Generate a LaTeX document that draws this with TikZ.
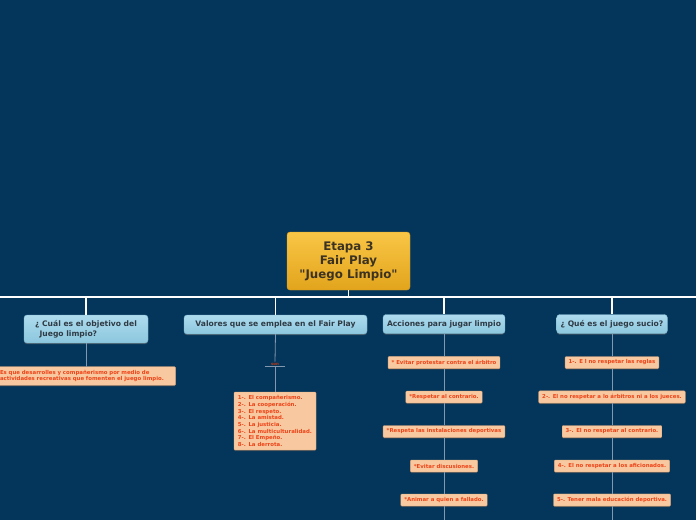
\documentclass[tikz,border=0pt]{standalone}
\usepackage{fontspec}
\setmainfont{DejaVu Sans}
\usetikzlibrary{shadows}
\definecolor{bgblue}{HTML}{04365B}
\definecolor{roottop}{HTML}{F9C646}
\definecolor{rootbottom}{HTML}{E2A41C}
\definecolor{rootline}{HTML}{D99A18}
\definecolor{rootfont}{HTML}{3B3223}
\definecolor{topictop}{HTML}{AEDBEE}
\definecolor{topicbottom}{HTML}{8CC7DE}
\definecolor{topicline}{HTML}{7AB5CE}
\definecolor{topicfont}{HTML}{2E3A44}
\definecolor{leaffont}{HTML}{EE4318}
\definecolor{leaffill}{HTML}{F8C9A0}
\definecolor{leafline}{HTML}{E0A67A}
\definecolor{branchgrey}{HTML}{8298AE}

\begin{document}
\begin{tikzpicture}[x=1pt,y=-1pt,
    root/.style={rounded corners=3pt,top color=roottop,bottom color=rootbottom,
        draw=rootline,font=\fontsize{11.8}{14}\selectfont\bfseries,text=rootfont,
        align=center,minimum width=123pt,minimum height=58pt,inner sep=2pt},
    topic/.style={rounded corners=3pt,top color=topictop,bottom color=topicbottom,
        draw=topicline,font=\fontsize{7.6}{10}\selectfont\bfseries,text=topicfont,
        inner xsep=4pt,minimum height=19pt,
        drop shadow={shadow xshift=0pt,shadow yshift=-1.2pt,fill=black!60,opacity=.6}},
    leaf/.style={rounded corners=1pt,fill=leaffill,draw=leafline,
        font=\fontsize{5.4}{6.7}\selectfont\bfseries,text=leaffont,
        inner xsep=3.5pt,minimum height=12pt,
        drop shadow={shadow xshift=0pt,shadow yshift=-1pt,fill=black!70,opacity=.6}},
    trunk/.style={draw=white,line width=1.6pt},
    branch/.style={draw=branchgrey,line width=.8pt}]

    \useasboundingbox[fill=bgblue] (0,0) rectangle (696,520);

    %main topic
    \node[root] (root) at (348.5,261) {Etapa 3\\Fair Play\\\textquotedbl Juego Limpio\textquotedbl};
    \coordinate (hl) at (0,297);
    \coordinate (hr) at (696,297);
    \draw[trunk] (hl) -- (hr);
    \draw[trunk] (root.south) -- (root.south |- hl);

    %objetivo
    \node[topic,align=left,minimum width=124pt,minimum height=28pt] (objetivo) at (86,329)
        {¿ Cuál es el objetivo del\\\hspace{0.6em}Juego limpio?};
    \node[leaf,align=left,text width=172pt,minimum height=18pt,
        font=\fontsize{5.4}{6.5}\selectfont\bfseries] (objetivo1) at (86,376)
        {Es que desarrolles y compañerismo por medio de\\actividades recreativas que fomenten el juego limpio.};
    \draw[trunk] (objetivo.north |- hl) -- (objetivo.north);
    \draw[branch] (objetivo.south) -- (objetivo1.north);

    %valores
    \node[topic,minimum width=183pt] (valores) at (275.5,324.5) {Valores que se emplea en el Fair Play};
    \node[font=\fontsize{4}{5}\selectfont\bfseries,text=leaffont!80!black,inner sep=1pt,
        minimum width=20pt] (son) at (275,364) {son};
    \draw[branch] (son.south west) -- (son.south east);
    \node[leaf,align=left,minimum width=82pt,minimum height=58pt,inner xsep=3pt] (lista) at (275,421)
        {1-. El compañerismo.\\2-. La cooperación.\\3-. El respeto.\\4-. La amistad.\\
         5-. La justicia.\\6-. La multiculturalidad.\\7-. El Empeño.\\8-. La derrota.};
    \draw[trunk] (valores.north |- hl) -- (valores.north);
    \draw[branch] (valores.south) -- (son.north);
    \draw[branch] (son.south) -- (lista.north);

    %acciones
    \node[topic,minimum width=119pt] (acciones) at (444,324) {Acciones para jugar limpio};
    \node[leaf] (acc1) at (444,362.5) {* Evitar protestar contra el árbitro};
    \node[leaf] (acc2) at (444,397) {*Respetar al contrario.};
    \node[leaf] (acc3) at (444,431.5) {*Respeta las instalaciones deportivas};
    \node[leaf] (acc4) at (444,466) {*Evitar discusiones.};
    \node[leaf] (acc5) at (444,500) {*Animar a quien a fallado.};
    \coordinate (accend) at (444,520);
    \draw[trunk] (acciones.north |- hl) -- (acciones.north);
    \draw[branch] (acciones.south) -- (acc1.north);
    \draw[branch] (acc1.south) -- (acc2.north);
    \draw[branch] (acc2.south) -- (acc3.north);
    \draw[branch] (acc3.south) -- (acc4.north);
    \draw[branch] (acc4.south) -- (acc5.north);
    \draw[branch] (acc5.south) -- (accend);

    %juego sucio
    \node[topic,minimum width=110pt] (sucio) at (612,324) {¿ Qué es el juego sucio?};
    \node[leaf] (suc1) at (612,362.5) {1-. E l no respetar las reglas};
    \node[leaf] (suc2) at (612,397) {2-. El no respetar a lo árbitros ni a los jueces.};
    \node[leaf] (suc3) at (612,431.5) {3-. El no respetar al contrario.};
    \node[leaf] (suc4) at (612,466) {4-. El no respetar a los aficionados.};
    \node[leaf] (suc5) at (612,500) {5-. Tener mala educación deportiva.};
    \coordinate (sucend) at (612,520);
    \draw[trunk] (sucio.north |- hl) -- (sucio.north);
    \draw[branch] (sucio.south) -- (suc1.north);
    \draw[branch] (suc1.south) -- (suc2.north);
    \draw[branch] (suc2.south) -- (suc3.north);
    \draw[branch] (suc3.south) -- (suc4.north);
    \draw[branch] (suc4.south) -- (suc5.north);
    \draw[branch] (suc5.south) -- (sucend);

\end{tikzpicture}
\end{document}
